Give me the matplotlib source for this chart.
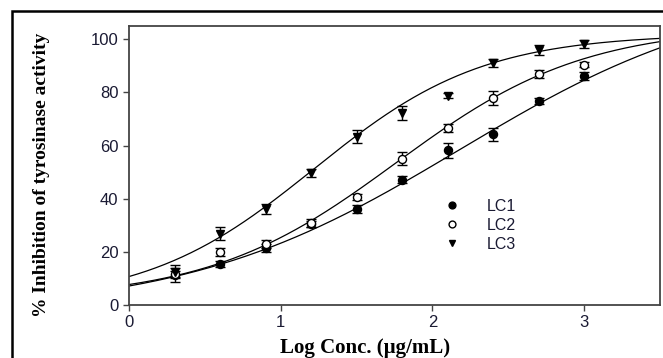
import numpy as np
import matplotlib
matplotlib.use("Agg")
import matplotlib.pyplot as plt
from matplotlib.patches import Rectangle

log_conc = [0.3, 0.6, 0.9, 1.2, 1.5, 1.8, 2.1, 2.4, 2.7, 3.0]

lc1 = [11.3, 15.4, 21.3, 30.5, 36.1, 47.2, 58.3, 64.2, 76.8, 86.1]
lc1_err = [2.5, 1.0, 1.5, 1.0, 1.5, 1.2, 2.8, 2.5, 1.2, 1.5]

lc2 = [11.7, 19.8, 22.8, 31.0, 40.7, 55.0, 66.7, 77.9, 87.1, 90.5]
lc2_err = [1.0, 1.5, 1.5, 1.5, 1.0, 2.5, 1.5, 2.5, 1.5, 1.0]

lc3 = [12.5, 26.9, 36.1, 49.5, 63.3, 72.3, 78.8, 91.1, 95.9, 98.4]
lc3_err = [2.5, 2.5, 2.0, 1.5, 2.5, 2.5, 1.0, 1.5, 2.0, 1.5]

# sigmoid fit parameters: bottom, top, logIC50, hill slope
lc1_fit = [-3.0, 120.0, 2.18, 0.48]
lc2_fit = [2.0, 105.0, 1.76, 0.70]
lc3_fit = [0.5, 102.0, 1.22, 0.78]

labels = ["LC1", "LC2", "LC3"]
markers = ["o", "o", "v"]
facecolors = ["black", "white", "black"]


def sigmoid(x, p):
    b, t, c, h = p
    return b + (t - b) / (1 + 10 ** ((c - x) * h))


fig = plt.figure(figsize=(6.63, 3.58), dpi=100)
ax = fig.add_axes([129 / 663, 1 - 305 / 358, 531 / 663, 279 / 358])

xx = np.linspace(0, 3.5, 300)
series = zip([lc1, lc2, lc3], [lc1_err, lc2_err, lc3_err], [lc1_fit, lc2_fit, lc3_fit],
             labels, markers, facecolors)
for ys, err, p, lab, mk, fc in series:
    ax.plot(xx, sigmoid(xx, p), color="black", lw=0.9, zorder=1)
    ax.errorbar(log_conc, ys, yerr=err, fmt=mk, mfc=fc, mec="black", ms=5.8, mew=1,
                ecolor="black", elinewidth=1, capsize=3.6, capthick=1, zorder=3, label=lab)

ax.set_xlim(0, 3.5)
ax.set_ylim(0, 105)
ax.set_xticks([0, 1, 2, 3])
ax.set_yticks([0, 20, 40, 60, 80, 100])
ax.tick_params(direction="out", length=4, width=1, labelsize=12, labelcolor="#1a1a33", color="#444444")
for lbl in ax.get_xticklabels() + ax.get_yticklabels():
    lbl.set_family("Liberation Sans")
for sp in ax.spines.values():
    sp.set_color("#444444")
    sp.set_linewidth(1.3)

handles, labs = ax.get_legend_handles_labels()
handles = [hd[0] for hd in handles]
leg = ax.legend(handles, labs, loc="upper left", bbox_to_anchor=(0.578, 0.41), frameon=False,
                handlelength=1.0, handletextpad=1.7, labelspacing=0.25, borderpad=0,
                markerscale=0.85, prop={"family": "Liberation Sans", "size": 11.5})
for txt in leg.get_texts():
    txt.set_color("#1a1a33")

fig.text(42 / 663, 1 - 175 / 358, "% Inhibition of tyrosinase activity", rotation=90,
         ha="center", va="center", family="Liberation Serif", weight="bold", size=14)
fig.text(365 / 663, 1 - 353 / 358, "Log Conc. (\u00b5g/mL)", ha="center", va="baseline",
         family="Liberation Serif", weight="bold", size=15)

fig.add_artist(Rectangle((12 / 663, -0.1), 1.2, 1.1 - 11 / 358, transform=fig.transFigure,
                         fill=False, lw=1.8, edgecolor="black"))

fig.savefig("out.png", dpi=100)
